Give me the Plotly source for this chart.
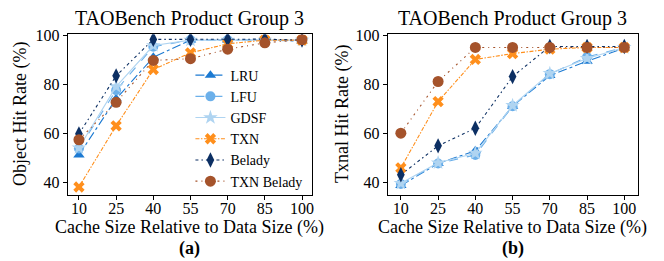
import plotly.graph_objects as go

sizes = ["10", "25", "40", "55", "70", "85", "100"]
policies = ["LRU", "LFU", "GDSF", "TXN", "Belady", "TXN Belady"]

obj_lru = [51.1, 74.0, 91.0, 98.0, 98.0, 98.0, 97.6]
obj_lfu = [53.7, 77.5, 95.3, 98.0, 98.0, 98.0, 98.0]
obj_gdsf = [54.0, 79.0, 95.8, 98.0, 98.0, 98.0, 98.0]
obj_txn = [38.0, 63.0, 86.0, 92.8, 96.5, 98.0, 98.0]
obj_belady = [59.7, 83.4, 98.3, 98.3, 98.3, 98.4, 98.0]
obj_txnbelady = [57.3, 72.6, 89.7, 90.4, 94.3, 96.9, 98.2]

txn_lru = [38.6, 47.6, 52.8, 71.0, 83.5, 89.4, 94.7]
txn_lfu = [39.2, 47.6, 51.1, 71.0, 84.1, 91.1, 95.0]
txn_gdsf = [39.5, 47.9, 51.8, 71.3, 84.4, 90.5, 95.0]
txn_txn = [45.8, 72.9, 90.1, 92.5, 94.3, 95.0, 95.0]
txn_belady = [43.0, 54.8, 62.0, 83.1, 95.4, 95.4, 95.4]
txn_txnbelady = [60.0, 81.1, 95.0, 95.0, 95.0, 95.0, 95.0]

colors = ["#1c7ad2", "#6cb0ea", "#afd4f1", "#ff8f1c", "#0c2f63", "#a5532b"]
symbols = ["triangle-up", "circle", "star", "x", "diamond-tall", "circle"]
msizes = [10, 10, 11, 10, 11, 11]
dashes = ["dashdot", "dash", "solid", "4px,1.5px,1.5px,1.5px", "3px,3px,1.5px,3px", "2px,4px,1px,4px"]

obj_series = [obj_lru, obj_lfu, obj_gdsf, obj_txn, obj_belady, obj_txnbelady]
txn_series = [txn_lru, txn_lfu, txn_gdsf, txn_txn, txn_belady, txn_txnbelady]

FONT = "Liberation Serif"
fig = go.Figure()
xs = list(range(len(sizes)))
for i, name in enumerate(policies):
    for j, (data, xa, ya) in enumerate([(obj_series[i], "x", "y"), (txn_series[i], "x2", "y2")]):
        fig.add_trace(go.Scatter(
            x=xs, y=data, xaxis=xa, yaxis=ya, name=name, mode="lines+markers",
            line=dict(color=colors[i], width=1.1, dash=dashes[i]),
            marker=dict(symbol=symbols[i], size=msizes[i], color=colors[i], line=dict(width=0)),
            showlegend=(j == 0), legendgroup=name,
        ))

axis_common = dict(
    showgrid=False, zeroline=False, showline=True, linecolor="black", linewidth=1.2,
    mirror=True, ticks="outside", ticklen=4, tickcolor="black",
    tickfont=dict(family=FONT, size=16, color="black"),
)
ydom = [1 - 193 / 261, 1 - 28 / 261]
fig.update_layout(
    width=664, height=261, margin=dict(l=0, r=0, t=0, b=0),
    plot_bgcolor="white", paper_bgcolor="white",
    font=dict(family=FONT, color="black"),
    xaxis=dict(domain=[68 / 664, 313 / 664], range=[-0.3, 6.27], tickvals=xs, ticktext=sizes,
               ticklabelstandoff=-5, **axis_common),
    yaxis=dict(domain=ydom, range=[34.8, 100.4], tickvals=[40, 60, 80, 100], **axis_common),
    xaxis2=dict(domain=[389 / 664, 640 / 664], range=[-0.35, 6.37], tickvals=xs, ticktext=sizes, anchor="y2",
                ticklabelstandoff=-5, **axis_common),
    yaxis2=dict(domain=ydom, range=[34.8, 100.4], tickvals=[40, 60, 80, 100], anchor="x2", **axis_common),
    legend=dict(x=191 / 664, y=1 - 54 / 261, xanchor="left", yanchor="top",
                font=dict(family=FONT, size=14, color="black"), bgcolor="rgba(255,255,255,0)",
                tracegroupgap=0, itemwidth=30),
)

ann = []
for cx, title, lab in [((68 + 313) / 2, "TAOBench Product Group 3", "(a)"),
                       ((389 + 640) / 2, "TAOBench Product Group 3", "(b)")]:
    ann.append(dict(x=cx / 664, y=1 - 12 / 261, text=title, font=dict(size=20)))
    ann.append(dict(x=cx / 664, y=1 - 227 / 261, text="Cache Size Relative to Data Size (%)", font=dict(size=18)))
    ann.append(dict(x=cx / 664, y=1 - 248 / 261, text="<b>" + lab + "</b>", font=dict(size=18)))
ann.append(dict(x=20 / 664, y=1 - 110 / 261, text="Object Hit Rate (%)", textangle=-90, font=dict(size=18)))
ann.append(dict(x=343 / 664, y=1 - 110 / 261, text="Txnal Hit Rate (%)", textangle=-90, font=dict(size=18)))
for a in ann:
    a.update(xref="paper", yref="paper", showarrow=False, xanchor="center", yanchor="middle")
    a["font"].update(family=FONT, color="black")
fig.update_layout(annotations=ann)

fig.write_html("out.html", config={"displayModeBar": False},
               post_script="document.body.style.margin='0';document.body.style.overflow='hidden';")
